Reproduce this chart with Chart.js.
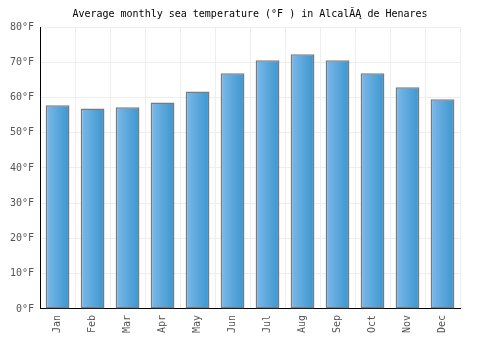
<!DOCTYPE html>
<html><head><meta charset="utf-8">
<script src="https://cdn.jsdelivr.net/npm/chart.js@4/dist/chart.umd.min.js"></script>
<style>html,body{margin:0;padding:0;background:#fff}#wrap{width:500px;height:350px}</style>
</head><body><div id="wrap"><canvas id="c" width="500" height="350"></canvas></div>
<script>
const months = ["Jan","Feb","Mar","Apr","May","Jun","Jul","Aug","Sep","Oct","Nov","Dec"];
const seaTempF = [57.8, 56.9, 57.2, 58.6, 61.7, 66.9, 70.6, 72.3, 70.6, 66.9, 62.9, 59.5];
const yTicks = [0,10,20,30,40,50,60,70,80];
const titleText = "Average monthly sea temperature (°F ) in Alcal\u0102\u0104 de Henares";
const FONT = "'DejaVu Sans Mono', monospace";
const BAR_PCT = 0.68;

function barGradient(context){
  const chart = context.chart;
  const xs = chart.scales && chart.scales.x;
  if(!xs || xs.width === undefined) return '#5aa9e0';
  const cx = xs.getPixelForValue(context.dataIndex);
  const w = xs.width / months.length * BAR_PCT;
  const g = chart.ctx.createLinearGradient(cx - w/2, 0, cx + w/2, 0);
  g.addColorStop(0, '#7db9ea');
  g.addColorStop(1, '#3a96cf');
  return g;
}

new Chart(document.getElementById('c'), {
  type: 'bar',
  data: { labels: months, datasets: [{
    data: seaTempF,
    backgroundColor: barGradient,
    borderColor: '#7a7a7a',
    borderWidth: 1.5,
    borderSkipped: false,
    barPercentage: BAR_PCT,
    categoryPercentage: 1.0
  }]},
  options: {
    responsive: false,
    animation: false,
    devicePixelRatio: 1,
    layout: { padding: { left: 4, right: 4, top: 0, bottom: 11 } },
    plugins: {
      legend: { display: false },
      tooltip: { enabled: false },
      title: { display: true, text: titleText, color: '#000',
        font: { family: FONT, size: 10, weight: 'normal' }, padding: { top: 8, bottom: 7 } }
    },
    scales: {
      x: {
        grid: { color: '#eeeeee', offset: true, drawTicks: false },
        border: { color: '#000', width: 1 },
        ticks: { color: '#555', font: { family: FONT, size: 10 }, maxRotation: 90, minRotation: 90, padding: 6 }
      },
      y: {
        min: 0, max: 80,
        afterBuildTicks: (axis) => { axis.ticks = yTicks.map(v => ({ value: v })); },
        grid: { color: '#eeeeee', drawTicks: false },
        border: { color: '#000', width: 1 },
        ticks: { color: '#555', font: { family: FONT, size: 10 }, padding: 6,
          callback: (v) => v + '°F' }
      },
      yRight: {
        position: 'right', min: 0, max: 80,
        grid: { display: false, drawTicks: false },
        border: { display: false },
        ticks: { display: false },
        afterFit: (axis) => { axis.width = 36; }
      }
    }
  }
});
</script></body></html>
